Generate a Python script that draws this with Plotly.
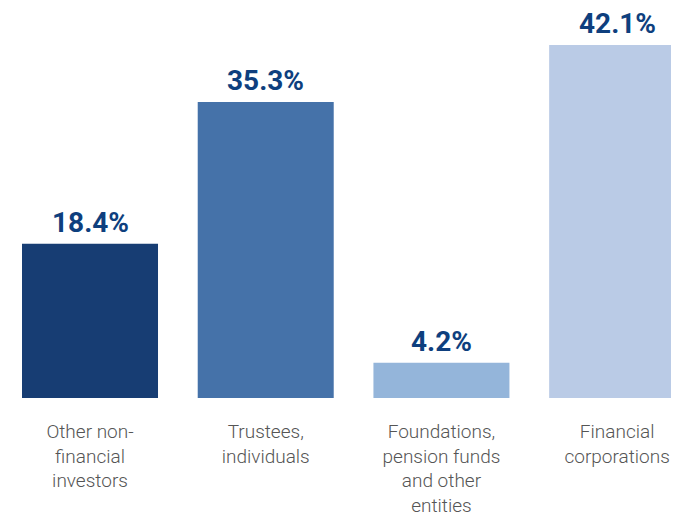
import plotly.graph_objects as go

categories = ["Other non-financial investors", "Trustees, individuals",
              "Foundations, pension funds and other entities", "Financial corporations"]
tick_labels = ["Other non-<br>financial<br>investors", "Trustees,<br>individuals",
               "Foundations,<br>pension funds<br>and other<br>entities", "Financial<br>corporations"]
values = [18.4, 35.3, 4.2, 42.1]
value_labels = ["18.4%", "35.3%", "4.2%", "42.1%"]
colors = ["#173D73", "#4572A9", "#94B5DA", "#BACBE6"]

fig = go.Figure(go.Bar(
    x=categories, y=values, marker=dict(color=colors, line=dict(width=0)),
    hoverinfo="skip",
))

for c, v, t in zip(categories, values, value_labels):
    fig.add_annotation(x=c, y=v, text=t, showarrow=False, yanchor="bottom", yshift=3,
                       font=dict(family="Roboto", size=28, color="#0E3F7E", weight="bold"))

# page body has an 8px margin, so the figure is sized to fill the rest of the window
fig.update_layout(
    width=671, height=509,
    margin=dict(l=0, r=0, t=0, b=119),
    plot_bgcolor="white", paper_bgcolor="white",
    bargap=0.226, showlegend=False,
    xaxis=dict(range=[-0.4667, 3.352], tickmode="array", tickvals=categories, ticktext=tick_labels,
               showgrid=False, zeroline=False, showline=False, ticks="", ticklabelstandoff=20,
               automargin=False,
               tickfont=dict(family="Roboto", size=19, color="#555555", weight=300)),
    yaxis=dict(range=[0, 46.5], visible=False, automargin=False),
)

fig.write_html("out.html")
